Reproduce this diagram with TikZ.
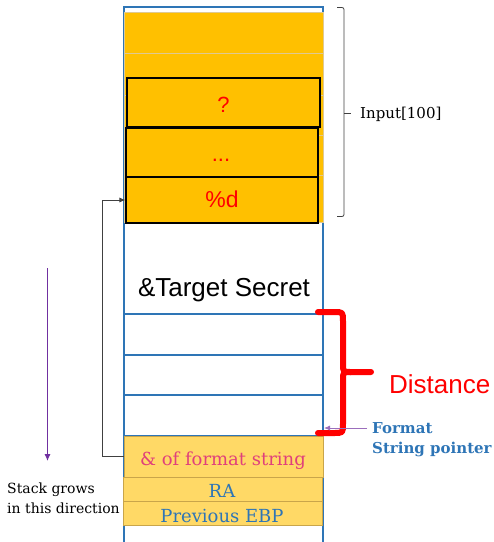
\documentclass[tikz,border=0pt]{standalone}
\usepackage{fontspec}
\setmainfont{DejaVu Serif}
\newfontfamily\arialf{Liberation Sans}
\usetikzlibrary{arrows.meta}
\definecolor{stackblue}{HTML}{2E75B6}
\definecolor{gold}{HTML}{FFC000}
\definecolor{lightgold}{HTML}{FFD966}
\definecolor{tanline}{HTML}{C9A54A}
\definecolor{pinkt}{HTML}{E0407B}
\definecolor{purp}{HTML}{7030A0}
\tikzset{
  fs/.style={font=\fontsize{#1}{#1}\selectfont},
  orow/.style={draw=tanline, line width=1pt, fill=lightgold},
  blk/.style={draw=black, line width=1.1pt, fill=gold},
  sans/.style={font=\arialf\fontsize{#1}{#1}\selectfont},
  lbl/.style={inner sep=0pt, anchor=base},
}
\begin{document}
\begin{tikzpicture}[x=1pt, y=-1pt]
\useasboundingbox (0,0) rectangle (494,542);
% outer stack column
\draw[stackblue, line width=1.3pt] (124,560) -- (124,7) -- (323,7) -- (323,560);
% blue row separators
\foreach \yy in {314,355,395,436} \draw[stackblue, line width=1.3pt] (124,\yy) -- (323,\yy);
% orange input area
\fill[gold] (124,12) rectangle (323,222);
\foreach \yy in {53,95,135,175} \draw[tanline!60, line width=0.8pt] (124,\yy) -- (323,\yy);
\draw[tanline!60, line width=0.8pt] (124,12) rectangle (323,222);
% black boxes
\node[blk, minimum width=193pt, minimum height=49pt, inner sep=0pt] (q) at (223.5,102.5) {};
\node[blk, minimum width=192pt, minimum height=49pt, inner sep=0pt] (dots) at (222,152.5) {};
\node[blk, minimum width=192pt, minimum height=46pt, inner sep=0pt] (pd) at (222,200) {};
\node[lbl, sans=22, text=red] (tq) at (223.5,112) {?};
\node[lbl, sans=22, text=red] (tdots) at (221,161) {...};
\node[lbl, sans=23, text=red] (tpd) at (222,207) {\%d};
% target secret
\node[lbl, sans=26] (ts) at (224,296) {\&Target Secret};
% bottom rows
\node[orow, minimum width=199pt, minimum height=41pt, inner sep=0pt] (fmt) at (223.5,456.5) {};
\node[orow, minimum width=199pt, minimum height=24pt, inner sep=0pt] (ra) at (222.5,489) {};
\node[orow, minimum width=199pt, minimum height=24pt, inner sep=0pt] (ebp) at (222.5,513) {};
\node[lbl, fs=18, text=pinkt] (tfmt) at (223,465) {\& of format string};
\node[lbl, fs=18, text=stackblue] (tra) at (222,497) {RA};
\node[lbl, fs=18, text=stackblue] (tebp) at (222,522) {Previous EBP};
% pointer arrow from format string address to %d
\draw[black!75, line width=0.8pt, -{Latex[length=6pt,width=5pt]}] (fmt.west) -- ++(-21,0) |- (pd.west);
% Input[100] brace
\draw[black!75, line width=0.8pt, rounded corners=2pt] (337,7.5) -- (344,7.5) -- (344,216.5) -- (337,216.5);
\draw[black!75, line width=0.8pt] (344,113) -- (351,113);
\node[lbl, anchor=base west, fs=15] (inp) at (360,118) {Input[100]};
% Distance brace
\draw[red, line width=6pt, line cap=round, line join=round]
  (318,312) -- (334,312) .. controls (343,312) .. (343,321) -- (343,364)
  .. controls (343,372) .. (351,372) -- (371,372);
\draw[red, line width=6pt, line cap=round, line join=round]
  (318,433) -- (334,433) .. controls (343,433) .. (343,424) -- (343,380)
  .. controls (343,372) .. (351,372);
\node[lbl, anchor=base west, sans=26, text=red] (dist) at (389,393) {Distance};
% format string pointer
\coordinate (fsp) at (367,428);
\coordinate (fspend) at (324,428);
\draw[purp!70, line width=0.8pt, -{Latex[length=6pt,width=5pt]}] (fsp) -- (fspend);
\node[lbl, anchor=base west, fs=15, font=\bfseries\fontsize{15}{15}\selectfont, text=stackblue] (f1) at (372,433) {Format};
\node[lbl, anchor=base west, font=\bfseries\fontsize{15}{15}\selectfont, text=stackblue] (f2) at (372,453) {String pointer};
% stack grows
\coordinate (sg1) at (47.5,268);
\coordinate (sg2) at (47.5,461);
\draw[purp, line width=0.9pt, -{Latex[length=7pt,width=6pt]}] (sg1) -- (sg2);
\node[lbl, anchor=base west, fs=14] (s1) at (7,493) {Stack grows};
\node[lbl, anchor=base west, fs=14] (s2) at (7,513) {in this direction};
\end{tikzpicture}
\end{document}
